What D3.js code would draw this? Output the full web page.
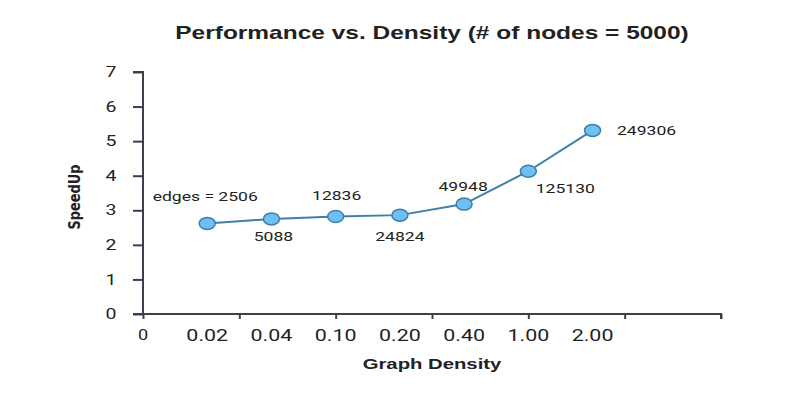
<!DOCTYPE html>
<html>
<head>
<meta charset="utf-8">
<script src="https://cdn.jsdelivr.net/npm/d3@7"></script>
<style>
  body { margin: 0; background: #fff; }
  svg text { fill: #222; }
</style>
</head>
<body>
<script>
"use strict";
(function(){
    // chart data
    const densityLabels = ["0", "0.02", "0.04", "0.10", "0.20", "0.40", "1.00", "2.00"]
    const pointIndex = [1, 2, 3, 4, 5, 6, 7]
    const speedUp = [2.62, 2.75, 2.82, 2.86, 3.18, 4.13, 5.31]
    const edgeLabels = ["edges = 2506", "5088", "12836", "24824", "49948", "125130", "249306"]
    const yTicks = [0, 1, 2, 3, 4, 5, 6, 7]

    // where each edge label sits relative to its point
    const labelOffsets = [
        {dx: -2, dy: -27}, {dx: 2, dy: 17}, {dx: 1, dy: -21}, {dx: 0, dy: 21},
        {dx: -1, dy: -18}, {dx: 37, dy: 17}, {dx: 54, dy: 0}
    ]

    const measurements = {
        width: 793,
        height: 399,
        left: 143,
        right: 721,
        top: 72,
        bottom: 314
    }
    const stretch = 1.3   // the original text is drawn horizontally wide
    const axisColor = "#3a404c"

    let svgContainer = d3.select('body').append("svg")
        .attr('width', measurements.width)
        .attr('height', measurements.height)

    let scaleX = d3.scaleLinear()
        .domain([0, 9])
        .range([measurements.left, measurements.right])
    let scaleY = d3.scaleLinear()
        .domain([0, 7])
        .range([measurements.bottom, measurements.top])

    function wideText(sel, x, y, str, size, weight, sx) {
        return sel.append("text")
            .attr("transform", "translate(" + x + "," + y + ") scale(" + (sx || stretch) + ",1)")
            .attr("text-anchor", "middle")
            .attr("dominant-baseline", "central")
            .style("font-family", "Roboto, 'Liberation Sans', sans-serif")
            .style("font-size", size + "px")
            .style("font-weight", weight || 400)
            .text(str)
    }

    // x axis: tick marks every 1.5 steps, labels under every step
    let xAxis = d3.axisBottom(scaleX)
        .tickValues([0, 1.5, 3, 4.5, 6, 7.5, 9])
        .tickSize(5)
        .tickFormat("")
    let gx = svgContainer.append('g')
        .attr('transform', 'translate(0,' + measurements.bottom + ')')
        .call(xAxis)
    gx.select(".domain").attr("d", "M" + (measurements.left - 10) + ",0H" + measurements.right + "V5")
    gx.selectAll("path, line").attr("stroke", axisColor).attr("stroke-width", 2)

    densityLabels.forEach((lab, i) => {
        wideText(svgContainer, scaleX(i), 335, lab, i === 0 ? 14 : 16.5)
    })

    // y axis
    let yAxis = d3.axisLeft(scaleY)
        .tickValues(yTicks)
        .tickSize(10)
        .tickFormat("")
    let gy = svgContainer.append('g')
        .attr('transform', 'translate(' + measurements.left + ',0)')
        .call(yAxis)
    gy.select(".domain").attr("d", "M-10," + measurements.top + "H0V" + measurements.bottom)
    gy.selectAll("path, line").attr("stroke", axisColor).attr("stroke-width", 2)

    yTicks.forEach((t) => {
        wideText(svgContainer, 111, scaleY(t), String(t), 15)
    })

    // line and markers
    let points = pointIndex.map((p, i) => ({x: p, y: speedUp[i], label: edgeLabels[i], off: labelOffsets[i]}))
    let line = d3.line()
        .x((d) => scaleX(d.x))
        .y((d) => scaleY(d.y))
    svgContainer.append("path")
        .datum(points)
        .attr("d", line)
        .attr("fill", "none")
        .attr("stroke", "#3f7ea6")
        .attr("stroke-width", 2)

    svgContainer.selectAll(".marker")
        .data(points)
        .enter()
        .append("ellipse")
        .attr("class", "marker")
        .attr("cx", (d) => scaleX(d.x))
        .attr("cy", (d) => scaleY(d.y))
        .attr("rx", 8)
        .attr("ry", 6)
        .attr("fill", "#6cc0f3")
        .attr("stroke", "#3f7ea6")
        .attr("stroke-width", 1.5)

    points.forEach((d) => {
        wideText(svgContainer, scaleX(d.x) + d.off.dx, scaleY(d.y) + d.off.dy, d.label, 13.5)
    })

    // titles
    wideText(svgContainer, 432, 33, "Performance vs. Density (# of nodes = 5000)", 17.5, 700, 1.4)
        .style("font-family", "'Liberation Sans', Arial, sans-serif")
    wideText(svgContainer, 432, 364, "Graph Density", 14.5, 700, 1.4)
        .style("font-family", "'Liberation Sans', Arial, sans-serif")
    svgContainer.append("text")
        .attr("transform", "translate(75,197) rotate(-90) scale(0.9,1)")
        .attr("text-anchor", "middle")
        .attr("dominant-baseline", "central")
        .style("font-family", "'Liberation Sans Narrow', 'DejaVu Sans Condensed', sans-serif")
        .style("font-size", "16px")
        .style("font-weight", 700)
        .text("SpeedUp")
})()
</script>
</body>
</html>
